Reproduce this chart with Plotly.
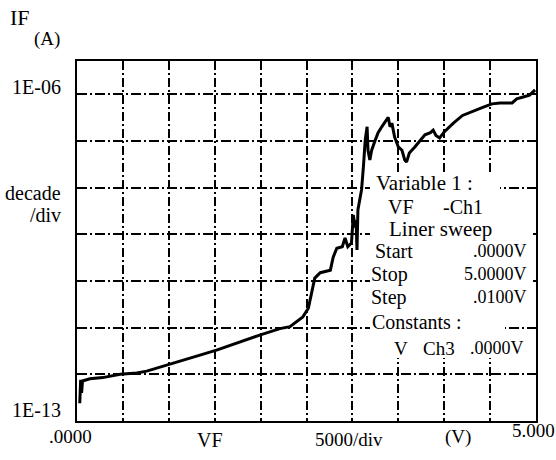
import plotly.graph_objects as go

# ---- data ----
vf = [0.03, 0.04, 0.05, 0.06, 0.14, 0.28, 0.47, 0.65, 0.76, 1.01, 1.52, 1.99, 2.21,
      2.32, 2.46, 2.52, 2.56, 2.59, 2.65, 2.76, 2.79, 2.83, 2.89, 2.92, 2.95, 2.99,
      3.01, 3.03, 3.04, 3.05, 3.06, 3.10, 3.12, 3.14, 3.16, 3.17, 3.19, 3.21, 3.25,
      3.28, 3.32, 3.35, 3.39, 3.41, 3.43, 3.46, 3.50, 3.54, 3.57, 3.59, 3.62, 3.68,
      3.74, 3.79, 3.85, 3.88, 3.91, 3.95, 4.00, 4.10, 4.20, 4.31, 4.42, 4.52, 4.61,
      4.74, 4.79, 4.86, 4.93, 4.99]
if_a = [2.4e-13, 7.6e-13, 4.0e-13, 7.2e-13, 8.0e-13, 8.5e-13, 1.0e-12, 1.07e-12,
        1.17e-12, 1.66e-12, 3.3e-12, 6.9e-12, 9.5e-12,
        1.05e-11, 1.7e-11, 2.6e-11, 6.5e-11, 1.15e-10, 1.5e-10, 1.7e-10, 3.2e-10,
        5.0e-10, 5.4e-10, 8.3e-10, 5.4e-10, 6.5e-10,
        2.6e-9, 1.4e-9, 2.0e-9, 4.6e-10, 3.3e-9, 9.0e-9, 2.8e-8, 1.05e-7, 2.0e-7,
        6.3e-8, 3.9e-8, 6.3e-8, 1.05e-7,
        1.5e-7, 2.0e-7, 2.5e-7, 3.2e-7, 2.0e-7, 2.4e-7, 1.2e-7, 7.4e-8, 6.3e-8,
        3.9e-8, 3.5e-8, 5.5e-8, 7.4e-8,
        1.05e-7, 1.35e-7, 1.5e-7, 1.7e-7, 1.3e-7, 1.15e-7, 1.55e-7, 2.4e-7, 3.5e-7,
        4.2e-7, 5.2e-7, 6.2e-7, 6.5e-7,
        6.5e-7, 7.9e-7, 8.7e-7, 9.5e-7, 1.23e-6]

x_ticks = [0, 0.5, 1.0, 1.5, 2.0, 2.5, 3.0, 3.5, 4.0, 4.5, 5.0]
y_ticks = [1e-13, 1e-12, 1e-11, 1e-10, 1e-9, 1e-8, 1e-7, 1e-6]

info_lines = ["Variable 1 :", "VF", "-Ch1", "Liner sweep", "Start", ".0000V",
              "Stop", "5.0000V", "Step", ".0100V", "Constants :", "V", "Ch3", ".0000V"]

# ---- layout helpers (pixel -> paper) ----
L, R, T, B = 77, 536, 61, 421


def px(x):
    return (x - L) / (R - L)


def py(y):
    return (B - y) / (B - T)


FONT = "'Liberation Serif', 'Times New Roman', 'DejaVu Serif', serif"

fig = go.Figure()
fig.add_trace(go.Scatter(x=vf, y=if_a, mode="lines",
                         line=dict(color="black", width=3), showlegend=False))

fig.update_xaxes(range=[0, 5], tickvals=x_ticks, showticklabels=False, ticks="",
                 showgrid=True, gridcolor="black", gridwidth=1.5,
                 griddash="9px,3px,2px,3px",
                 showline=True, linecolor="black", linewidth=2, mirror=True, zeroline=False)
fig.update_yaxes(type="log", range=[-13, -5.29], tickvals=y_ticks, showticklabels=False,
                 ticks="", showgrid=True, gridcolor="black", gridwidth=1.5,
                 griddash="10px,3px,2px,3px",
                 showline=True, linecolor="black", linewidth=2, mirror=True, zeroline=False)

# white areas behind the info text
for (x0, y0, x1, y1) in [(370, 172, 500, 198), (370, 198, 533, 318), (370, 318, 505, 358)]:
    fig.add_shape(type="rect", xref="paper", yref="paper",
                  x0=px(x0), x1=px(x1), y0=py(y1), y1=py(y0),
                  fillcolor="white", line=dict(width=0), layer="above")

ann = []


def add(text, x, y, size, xa="left"):
    ann.append(dict(text=text, x=px(x), y=py(y), xref="paper", yref="paper",
                    xanchor=xa, yanchor="middle", showarrow=False,
                    font=dict(family=FONT, size=size, color="black")))


# axis labels
add("IF", 8, 17, 22)
add("(A)", 32, 39, 19)
add("1E-06", 63, 87, 20, "right")
add("decade", 63, 193, 20, "right")
add("/div", 63, 215, 20, "right")
add("1E-13", 63, 410, 20, "right")
add(".0000", 70, 436, 19, "center")
add("VF", 210, 440, 20, "center")
add("5000/div", 349, 439, 19, "center")
add("(V)", 458, 437, 19, "center")
add("5.000", 533, 431, 19, "center")

# info block
add(info_lines[0], 374, 183, 21)
add(info_lines[1], 386, 207, 20)
add(info_lines[2], 441, 207, 20)
add(info_lines[3], 387, 229, 21)
add(info_lines[4], 373, 251, 20)
add(info_lines[5], 529, 251, 18, "right")
add(info_lines[6], 369, 274, 20)
add(info_lines[7], 529, 274, 18, "right")
add(info_lines[8], 369, 297, 20)
add(info_lines[9], 529, 297, 18, "right")
add(info_lines[10], 370, 322, 20)
add(info_lines[11], 392, 348, 19)
add(info_lines[12], 421, 348, 19)
add(info_lines[13], 526, 348, 18, "right")

fig.update_layout(width=556, height=460, margin=dict(l=L, r=556 - R, t=T, b=460 - B),
                  paper_bgcolor="white", plot_bgcolor="white", annotations=ann,
                  font=dict(family=FONT, color="black"))

fig.write_html("out.html", config={"displayModeBar": False},
               post_script="document.body.style.margin='0';document.body.style.overflow='hidden';")
